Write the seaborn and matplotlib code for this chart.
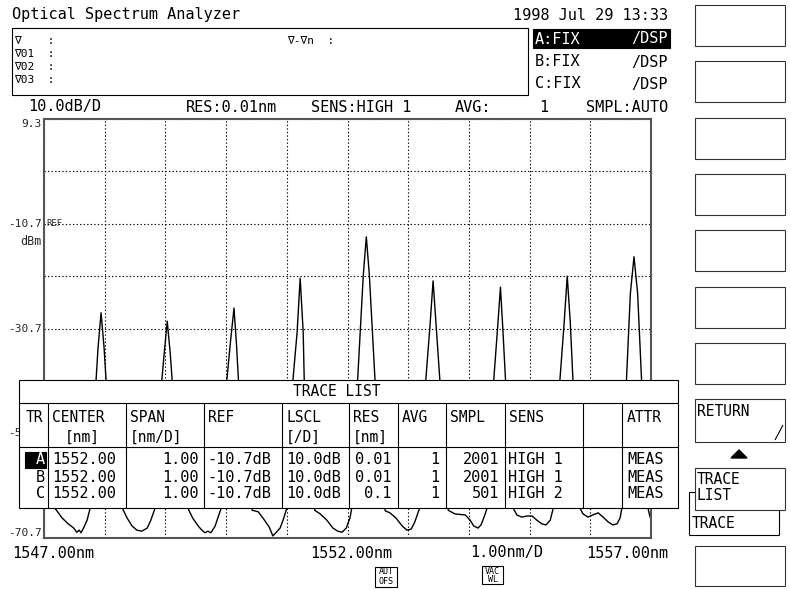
import numpy as np
import pandas as pd
import matplotlib
matplotlib.use("Agg")
import matplotlib.pyplot as plt
from matplotlib.patches import Rectangle, Polygon
import seaborn as sns

W, H = 791, 590

# trace vertices (wavelength nm, level dBm)
trace_nm = [
    1547.00, 1547.18, 1547.30, 1547.40, 1547.49, 1547.54, 1547.58, 1547.61, 1547.66, 1547.71, 1547.76,
    1547.85, 1547.89, 1547.94, 1547.99, 1548.03,
    1548.29, 1548.37, 1548.45, 1548.53, 1548.61, 1548.70, 1548.76, 1548.83,
    1548.93, 1548.98, 1549.03, 1549.08, 1549.12,
    1549.37, 1549.45, 1549.54, 1549.60, 1549.65, 1549.70, 1549.75, 1549.82, 1549.88, 1549.92,
    1550.00, 1550.07, 1550.13, 1550.17, 1550.21,
    1550.43, 1550.53, 1550.62, 1550.71, 1550.77, 1550.82, 1550.89, 1550.95, 1551.00,
    1551.09, 1551.17, 1551.22, 1551.27, 1551.29,
    1551.46, 1551.55, 1551.66, 1551.76, 1551.84, 1551.91, 1551.98, 1552.04, 1552.07,
    1552.16, 1552.26, 1552.31, 1552.36, 1552.46,
    1552.62, 1552.70, 1552.80, 1552.90, 1552.98, 1553.05, 1553.11, 1553.16, 1553.19,
    1553.28, 1553.36, 1553.41, 1553.46, 1553.53,
    1553.66, 1553.77, 1553.94, 1554.02, 1554.08, 1554.15, 1554.20, 1554.25, 1554.30,
    1554.40, 1554.47, 1554.52, 1554.56, 1554.61,
    1554.73, 1554.79, 1554.87, 1554.96, 1555.04, 1555.12, 1555.20, 1555.27, 1555.34, 1555.39,
    1555.49, 1555.57, 1555.62, 1555.67, 1555.72,
    1555.83, 1555.88, 1555.96, 1556.04, 1556.13, 1556.21, 1556.29, 1556.37, 1556.44, 1556.49, 1556.52,
    1556.59, 1556.66, 1556.72, 1556.78, 1556.85,
    1556.95, 1556.98, 1557.00,
]
trace_dbm = [
    -60.0, -65.0, -66.9, -68.0, -68.8, -69.6, -69.2, -69.7, -68.6, -67.3, -65.0,
    -42.0, -34.4, -27.7, -34.4, -42.0,
    -65.0, -66.9, -68.4, -69.2, -69.4, -68.8, -67.3, -65.0,
    -42.0, -35.5, -29.3, -35.5, -42.0,
    -65.0, -66.9, -68.4, -69.2, -69.7, -69.4, -69.7, -68.4, -66.3, -65.0,
    -42.0, -33.5, -26.8, -33.5, -42.0,
    -65.4, -65.7, -67.1, -68.6, -70.3, -69.7, -68.8, -66.9, -65.0,
    -42.0, -31.4, -21.1, -31.4, -42.0,
    -65.4, -66.1, -67.3, -68.8, -69.4, -69.6, -68.8, -66.9, -65.0,
    -42.0, -20.5, -13.2, -20.5, -42.0,
    -65.5, -65.9, -66.9, -68.4, -69.2, -69.0, -67.6, -65.9, -65.0,
    -42.0, -30.0, -21.6, -30.0, -42.0,
    -65.4, -66.1, -66.3, -67.3, -68.4, -68.8, -68.2, -66.7, -65.0,
    -42.0, -31.0, -22.8, -31.0, -42.0,
    -65.0, -66.3, -66.7, -66.5, -66.5, -67.3, -68.0, -68.2, -67.3, -65.0,
    -42.0, -29.5, -20.7, -29.5, -42.0,
    -65.0, -66.1, -66.7, -66.3, -65.9, -66.7, -67.6, -68.2, -68.0, -66.9, -65.0,
    -42.0, -24.0, -17.0, -24.0, -42.0,
    -65.0, -66.5, -67.1,
]

x_start, x_stop = 1547.0, 1557.0
y_top, y_bottom = 9.3, -70.7
y_labels = ["9.3", "-10.7", "-30.7", "-50.7", "-70.7"]
y_label_vals = [9.3, -10.7, -30.7, -50.7, -70.7]

# trace list table
tr_ids = ["A", "B", "C"]
tr_center = ["1552.00", "1552.00", "1552.00"]
tr_span = ["1.00", "1.00", "1.00"]
tr_ref = ["-10.7dB", "-10.7dB", "-10.7dB"]
tr_lscl = ["10.0dB", "10.0dB", "10.0dB"]
tr_res = ["0.01", "0.01", "0.1"]
tr_avg = ["1", "1", "1"]
tr_smpl = ["2001", "2001", "501"]
tr_sens = ["HIGH 1", "HIGH 1", "HIGH 2"]
tr_attr = ["MEAS", "MEAS", "MEAS"]

sns.set_theme(style="white")
plt.rcParams['font.family'] = ['DejaVu Sans Mono', 'DejaVu Sans']

fig = plt.figure(figsize=(W / 100, H / 100), dpi=100)
fig.patch.set_facecolor("white")

# spectrum axes
ax = fig.add_axes([44 / W, (H - 538) / H, (651 - 44) / W, (538 - 119) / H])
df = pd.DataFrame({"nm": trace_nm, "dbm": trace_dbm})
sns.lineplot(data=df, x="nm", y="dbm", sort=False, estimator=None,
             color="black", lw=1.0, ax=ax)
ax.set_xlim(x_start, x_stop)
ax.set_ylim(y_bottom, y_top)
ax.set_xticks(np.arange(x_start, x_stop + 0.5, 1.0))
ax.set_yticks(np.arange(y_bottom, y_top + 0.5, 10.0))
ax.grid(True, color="black", ls=(0, (1.2, 2.0)), lw=0.8)
ax.tick_params(length=0, labelbottom=False, labelleft=False)
ax.set_xlabel("")
ax.set_ylabel("")
for s in ax.spines.values():
    s.set_visible(True)
    s.set_color("#555555")
    s.set_linewidth(1.5)

ytr = ax.get_yaxis_transform()
for lab, v in zip(y_labels, y_label_vals):
    va = "top" if v == y_top else ("bottom" if v == y_bottom else "center")
    ax.text(-0.004, v, lab, transform=ytr, ha="right", va=va, fontsize=8)
ax.text(0.004, -10.7, "REF", transform=ytr, ha="left", va="center", fontsize=6.5)
ax.text(-0.004, -14.0, "dBm", transform=ytr, ha="right", va="center", fontsize=8.5)

# screen overlay in pixel coordinates
ov = fig.add_axes([0, 0, 1, 1])
ov.set_xlim(0, W)
ov.set_ylim(H, 0)
ov.axis("off")
ov.set_zorder(10)
ov.patch.set_visible(False)

LW = 0.8


def txt(x, y, s, size=11, ha="left", color="black", va="center"):
    ov.text(x, y, s, fontsize=size, ha=ha, va=va, color=color, zorder=20)


def box(x, y, w, h, fc="white", ec="black", lw=LW, z=12):
    ov.add_patch(Rectangle((x, y), w, h, facecolor=fc, edgecolor=ec, lw=lw, zorder=z))


def line(x0, y0, x1, y1, lw=LW, z=15):
    ov.plot([x0, x1], [y0, y1], color="black", lw=lw, zorder=z, solid_capstyle="butt")


# header
txt(12, 15, "Optical Spectrum Analyzer", 11)
txt(668, 15, "1998 Jul 29 13:33", 11, ha="right")
box(12, 28, 516, 67, fc="none")
txt(14, 41, "\u2207    :", 8)
txt(14, 54, "\u220701  :", 8)
txt(14, 67, "\u220702  :", 8)
txt(14, 80, "\u220703  :", 8)
txt(287, 41, "\u2207-\u2207n  :", 8)

box(533, 29, 137, 19, fc="black", ec="black")
txt(535, 39, "A:FIX", 11, color="white")
txt(668, 39, "/DSP", 11, ha="right", color="white")
txt(535, 62, "B:FIX", 11)
txt(668, 62, "/DSP", 11, ha="right")
txt(535, 84, "C:FIX", 11)
txt(668, 84, "/DSP", 11, ha="right")

txt(28, 107, "10.0dB/D", 11)
txt(186, 107, "RES:0.01nm", 11)
txt(311, 107, "SENS:HIGH 1", 11)
txt(455, 107, "AVG:", 11)
txt(548, 107, "1", 11, ha="right")
txt(668, 107, "SMPL:AUTO", 11, ha="right")

# x labels
txt(12, 553, "1547.00nm", 11)
txt(310, 553, "1552.00nm", 11)
txt(470, 553, "1.00nm/D", 11)
txt(668, 553, "1557.00nm", 11, ha="right")

box(375, 567, 22, 20, fc="white")
txt(386, 572, "AUT", 6, ha="center")
txt(386, 582, "OFS", 6, ha="center")
box(482, 566, 21, 18, fc="white")
txt(492.5, 571, "VAC", 6, ha="center")
txt(492.5, 580, "WL", 6, ha="center")

# trace list table
box(19, 380, 659, 128, fc="white", lw=LW, z=11)
line(19, 403, 678, 403)
line(19, 447, 678, 447)
col_x = [48, 126, 204, 282, 349, 398, 446, 505, 583, 622]
for cx in col_x:
    line(cx, 403, cx, 508)
txt(337, 392, "TRACE LIST", 10.5, ha="center")

hy1, hy2 = 418, 437
txt(26, hy1, "TR", 10.5)
txt(52, hy1, "CENTER", 10.5)
txt(65, hy2, "[nm]", 10.5)
txt(130, hy1, "SPAN", 10.5)
txt(130, hy2, "[nm/D]", 10.5)
txt(208, hy1, "REF", 10.5)
txt(286, hy1, "LSCL", 10.5)
txt(286, hy2, "[/D]", 10.5)
txt(353, hy1, "RES", 10.5)
txt(353, hy2, "[nm]", 10.5)
txt(402, hy1, "AVG", 10.5)
txt(450, hy1, "SMPL", 10.5)
txt(509, hy1, "SENS", 10.5)
txt(627, hy1, "ATTR", 10.5)

row_y = [460, 477, 494]
box(25, 452, 21, 16, fc="black", ec="black", z=13)
for i, ry in enumerate(row_y):
    txt(45, ry, tr_ids[i], 11, ha="right", color="white" if i == 0 else "black")
    txt(52, ry, tr_center[i], 11)
    txt(199, ry, tr_span[i], 11, ha="right")
    txt(207, ry, tr_ref[i], 11)
    txt(286, ry, tr_lscl[i], 11)
    txt(391, ry, tr_res[i], 11, ha="right")
    txt(439, ry, tr_avg[i], 11, ha="right")
    txt(499, ry, tr_smpl[i], 11, ha="right")
    txt(508, ry, tr_sens[i], 11)
    txt(627, ry, tr_attr[i], 11)

# soft keys on the right
for i in range(7):
    box(695, 5 + 56.3 * i, 90, 41, fc="white", ec="#333333")
box(695, 399, 90, 43, fc="white", ec="#333333")
txt(697, 412, "RETURN", 10.5)
line(775, 440, 783, 425)
ov.add_patch(Polygon([(731, 458), (747, 458), (739, 450)], closed=True,
                     facecolor="black", edgecolor="black", zorder=14))
line(689, 492, 695, 492)
line(689, 492, 689, 535)
line(689, 535, 779, 535)
line(779, 510, 779, 535)
txt(692, 523, "TRACE", 10.5)
box(695, 468, 90, 42, fc="white", ec="#333333", z=16)
txt(697, 479, "TRACE", 10.5)
txt(697, 495, "LIST", 10.5)
box(695, 546, 90, 40, fc="white", ec="#333333")

fig.savefig("out.png", dpi=100, facecolor="white")
